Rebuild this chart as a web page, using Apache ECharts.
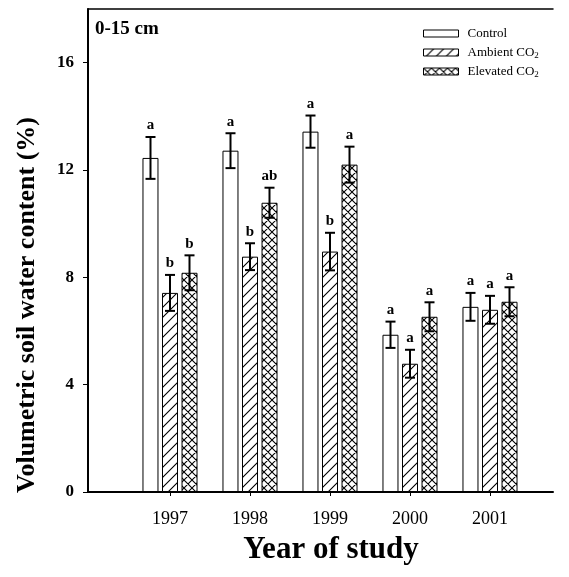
<!DOCTYPE html>
<html>
<head>
<meta charset="utf-8">
<script src="https://cdn.jsdelivr.net/npm/echarts@6/dist/echarts.min.js"></script>
<style>
html,body{margin:0;padding:0;background:#fff;}
#c{width:569px;height:577px;}
</style>
</head>
<body>
<div id="c"></div>
<script>
// ---- data ----
var years = ['1997', '1998', '1999', '2000', '2001'];
var seriesNames = ['Control', 'Ambient CO2', 'Elevated CO2'];
var controlValues = [12.45, 12.72, 13.43, 5.86, 6.90];
var controlErrors = [0.78, 0.65, 0.60, 0.49, 0.52];
var controlLetters = ['a', 'a', 'a', 'a', 'a'];
var ambientValues = [7.42, 8.77, 8.96, 4.78, 6.79];
var ambientErrors = [0.67, 0.50, 0.70, 0.52, 0.52];
var ambientLetters = ['b', 'b', 'b', 'a', 'a'];
var elevatedValues = [8.17, 10.78, 12.20, 6.53, 7.09];
var elevatedErrors = [0.65, 0.56, 0.67, 0.54, 0.54];
var elevatedLetters = ['b', 'ab', 'a', 'a', 'a'];
var yTicks = [0, 4, 8, 12, 16];

// ---- patterns ----
function hatchPattern(kind) {
  var s = kind === 'diag' ? 10 : 8;
  var c = document.createElement('canvas');
  c.width = s; c.height = s;
  var g = c.getContext('2d');
  g.fillStyle = '#fff';
  g.fillRect(0, 0, s, s);
  g.strokeStyle = '#000';
  g.lineWidth = 1.1;
  g.beginPath();
  g.moveTo(-1, s + 1); g.lineTo(s + 1, -1);
  g.moveTo(-1, 1); g.lineTo(1, -1);
  g.moveTo(s - 1, s + 1); g.lineTo(s + 1, s - 1);
  if (kind === 'cross') {
    g.moveTo(-1, -1); g.lineTo(s + 1, s + 1);
    g.moveTo(s - 1, -1); g.lineTo(s + 1, 1);
    g.moveTo(-1, s - 1); g.lineTo(1, s + 1);
  }
  g.stroke();
  return { image: c, repeat: 'repeat' };
}

var fills = ['#ffffff', hatchPattern('diag'), hatchPattern('cross')];
var allValues = [controlValues, ambientValues, elevatedValues];
var allErrors = [controlErrors, ambientErrors, elevatedErrors];
var allLetters = [controlLetters, ambientLetters, elevatedLetters];
var offsets = [-19.5, 0, 19.5];
var serif = 'Liberation Serif, Times New Roman, serif';

var series = [];
seriesNames.forEach(function (name, k) {
  series.push({
    name: name,
    type: 'bar',
    xAxisIndex: 2,
    yAxisIndex: 1,
    barWidth: 16,
    barGap: '22%',
    data: allValues[k],
    itemStyle: { color: fills[k], borderColor: '#000', borderWidth: 1 },
    emphasis: { disabled: true },
    animation: false,
    z: 2
  });
});
seriesNames.forEach(function (name, k) {
  var data = allValues[k].map(function (v, i) { return [i, v, allErrors[k][i]]; });
  series.push({
    type: 'custom',
    xAxisIndex: 2,
    yAxisIndex: 1,
    data: data,
    encode: { x: 0, y: 1 },
    z: 5,
    animation: false,
    silent: true,
    renderItem: function (params, api) {
      var idx = api.value(0), v = api.value(1), e = api.value(2);
      var letter = allLetters[k][params.dataIndex];
      var x = api.coord([idx, 0])[0] + offsets[k];
      var yt = api.coord([idx, v + e])[1];
      var yb = api.coord([idx, v - e])[1];
      var st = { stroke: '#000', lineWidth: 2 };
      return {
        type: 'group',
        children: [
          { type: 'line', shape: { x1: x, y1: yt, x2: x, y2: yb }, style: st },
          { type: 'line', shape: { x1: x - 5, y1: yt, x2: x + 5, y2: yt }, style: st },
          { type: 'line', shape: { x1: x - 5, y1: yb, x2: x + 5, y2: yb }, style: st },
          { type: 'text', x: x, y: yt - 4, style: { text: letter, fill: '#000', font: 'bold 15px ' + serif, textAlign: 'center', textVerticalAlign: 'bottom' } }
        ]
      };
    }
  });
});

var chart = echarts.init(document.getElementById('c'), null, { renderer: 'canvas' });
chart.setOption({
  animation: false,
  backgroundColor: '#fff',
  grid: [
    { left: 88, right: 16, top: 9, bottom: 85 },
    { left: 130, right: 39, top: 9, bottom: 85 }
  ],
  xAxis: [
    { gridIndex: 0, type: 'value', min: 0, max: 1, position: 'bottom',
      axisLine: { show: true, lineStyle: { color: '#000', width: 2 } },
      axisTick: { show: false }, axisLabel: { show: false }, splitLine: { show: false } },
    { gridIndex: 0, type: 'value', min: 0, max: 1, position: 'top',
      axisLine: { show: true, lineStyle: { color: '#000', width: 1.5 } },
      axisTick: { show: false }, axisLabel: { show: false }, splitLine: { show: false } },
    { gridIndex: 1, type: 'category', data: years, position: 'bottom',
      axisLine: { show: false },
      axisTick: { show: true, alignWithLabel: true, length: 4, lineStyle: { color: '#000', width: 1 } },
      axisLabel: { color: '#000', fontFamily: serif, fontSize: 18, margin: 18 } }
  ],
  yAxis: [
    { gridIndex: 0, type: 'value', min: 0, max: 18,
      axisLine: { show: true, lineStyle: { color: '#000', width: 2 } },
      axisTick: { show: true, length: 5, lineStyle: { color: '#000', width: 1 }, customValues: yTicks },
      axisLabel: { color: '#000', fontFamily: serif, fontWeight: 'bold', fontSize: 17, margin: 14, customValues: yTicks },
      splitLine: { show: false } },
    { gridIndex: 1, type: 'value', min: 0, max: 18, show: false, splitLine: { show: false } }
  ],
  legend: {
    orient: 'vertical',
    left: 423,
    top: 26,
    padding: 0,
    icon: 'rect',
    itemWidth: 35,
    itemHeight: 7,
    itemGap: 3,
    selectedMode: false,
    data: seriesNames,
    itemStyle: { borderWidth: 1, borderColor: '#000' },
    formatter: function (n) { return n.replace('CO2', 'CO{sub|2}'); },
    textStyle: {
      color: '#000', fontFamily: serif, fontSize: 13, lineHeight: 15, padding: [0, 0, 0, 4],
      rich: { sub: { fontFamily: serif, fontSize: 9, lineHeight: 15, verticalAlign: 'bottom', padding: [7, 0, 0, 0] } }
    }
  },
  graphic: [
    { type: 'text', left: 95, top: 20, style: { text: '0-15 cm', fill: '#000', font: 'bold 19px ' + serif } },
    { type: 'text', x: 27, y: 305, rotation: Math.PI / 2,
      style: { text: 'Volumetric soil water content (%)', fill: '#000', font: 'bold 26px ' + serif, textAlign: 'center', textVerticalAlign: 'middle' } },
    { type: 'text', x: 331, y: 550,
      style: { text: 'Year of study', fill: '#000', font: 'bold 31px ' + serif, textAlign: 'center', textVerticalAlign: 'middle' } }
  ],
  series: series
});
</script>
</body>
</html>
